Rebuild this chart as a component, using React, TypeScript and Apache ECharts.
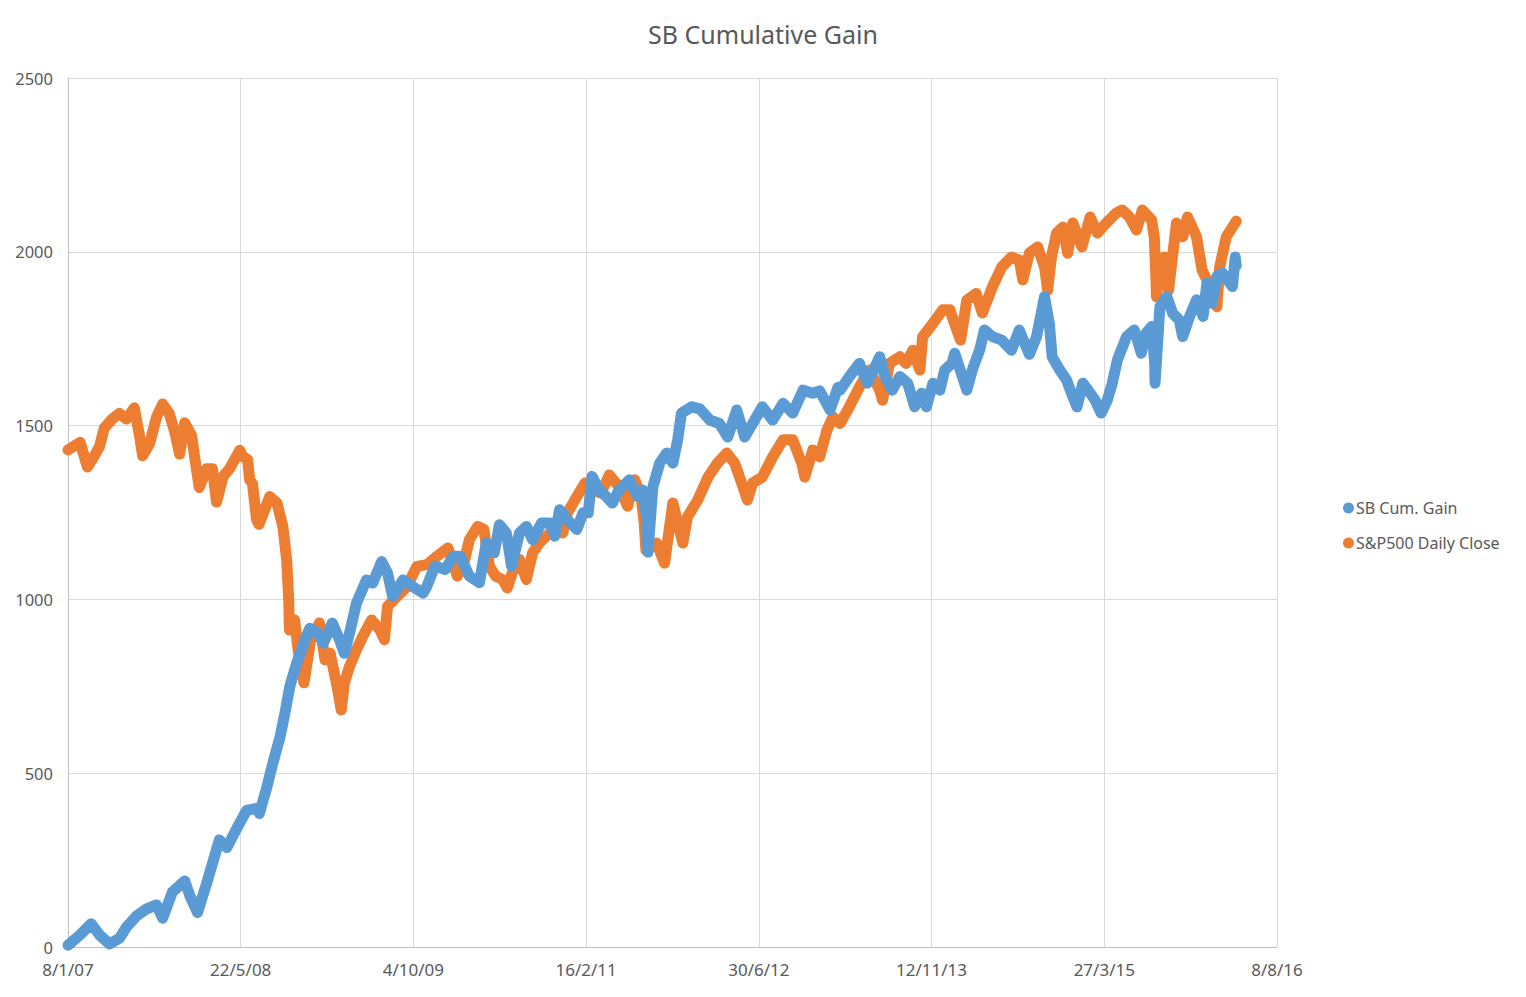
import React, { useEffect, useRef } from 'react';
import * as echarts from 'echarts';

// day 0 of the x axis
const START_DATE = '2007-01-08';

const xTicks = [0, 500, 1000, 1500, 2000, 2500, 3000, 3500];
const yTicks = [0, 500, 1000, 1500, 2000, 2500];

// SB Cum. Gain
const sbGain: [string, number][] = [
  ['2007-01-08', 5], ['2007-02-12', 35], ['2007-03-16', 67], ['2007-04-09', 35],
  ['2007-05-08', 9], ['2007-06-06', 25], ['2007-06-26', 57], ['2007-07-25', 89],
  ['2007-08-24', 110], ['2007-09-21', 121], ['2007-10-09', 83], ['2007-11-06', 158],
  ['2007-12-12', 190], ['2007-12-27', 147], ['2008-01-18', 99], ['2008-02-14', 185],
  ['2008-03-07', 260], ['2008-03-21', 308], ['2008-04-12', 286], ['2008-05-10', 340],
  ['2008-06-08', 393], ['2008-07-07', 399], ['2008-07-15', 384], ['2008-08-06', 461],
  ['2008-08-23', 529], ['2008-09-13', 605], ['2008-09-27', 673], ['2008-10-11', 749],
  ['2008-10-31', 817], ['2008-11-24', 884], ['2008-12-08', 917], ['2008-12-31', 903],
  ['2009-01-16', 874], ['2009-02-11', 932], ['2009-03-04', 884], ['2009-03-18', 845],
  ['2009-04-02', 903], ['2009-04-22', 989], ['2009-05-21', 1056], ['2009-06-08', 1047],
  ['2009-07-04', 1109], ['2009-07-21', 1076], ['2009-08-05', 1008], ['2009-09-04', 1056],
  ['2009-10-02', 1037], ['2009-11-01', 1018], ['2009-11-12', 1038], ['2009-12-05', 1096],
  ['2010-01-04', 1086], ['2010-01-27', 1124], ['2010-02-16', 1124], ['2010-03-15', 1067],
  ['2010-04-13', 1048], ['2010-05-03', 1163], ['2010-05-26', 1134], ['2010-06-10', 1215],
  ['2010-06-30', 1191], ['2010-07-15', 1096], ['2010-08-07', 1191], ['2010-08-27', 1210],
  ['2010-09-14', 1172], ['2010-10-10', 1220], ['2010-11-03', 1220], ['2010-11-17', 1182],
  ['2010-12-01', 1258], ['2010-12-24', 1229], ['2011-01-20', 1201], ['2011-02-07', 1249],
  ['2011-02-22', 1249], ['2011-03-05', 1354], ['2011-03-25', 1316], ['2011-04-15', 1296],
  ['2011-05-03', 1277], ['2011-05-22', 1315], ['2011-06-21', 1344], ['2011-07-01', 1323],
  ['2011-07-15', 1296], ['2011-07-29', 1315], ['2011-08-10', 1237], ['2011-08-12', 1191],
  ['2011-08-14', 1136], ['2011-08-28', 1323], ['2011-09-17', 1392], ['2011-10-07', 1421],
  ['2011-10-25', 1392], ['2011-11-08', 1459], ['2011-11-19', 1536], ['2011-12-18', 1554],
  ['2012-01-11', 1548], ['2012-02-09', 1516], ['2012-03-08', 1506], ['2012-04-01', 1467],
  ['2012-04-27', 1545], ['2012-05-20', 1467], ['2012-06-12', 1506], ['2012-07-10', 1554],
  ['2012-08-09', 1516], ['2012-09-08', 1564], ['2012-10-06', 1536], ['2012-11-05', 1602],
  ['2012-12-03', 1593], ['2012-12-23', 1600], ['2013-01-22', 1545], ['2013-02-14', 1610],
  ['2013-02-20', 1602], ['2013-03-19', 1641], ['2013-04-17', 1679], ['2013-05-10', 1622],
  ['2013-06-15', 1698], ['2013-06-30', 1641], ['2013-07-21', 1602], ['2013-08-12', 1641],
  ['2013-09-04', 1622], ['2013-09-24', 1554], ['2013-10-14', 1593], ['2013-10-28', 1554],
  ['2013-11-16', 1622], ['2013-12-06', 1602], ['2013-12-20', 1660], ['2014-01-10', 1679],
  ['2014-01-18', 1708], ['2014-02-03', 1660], ['2014-02-22', 1602], ['2014-03-10', 1660],
  ['2014-03-31', 1717], ['2014-04-14', 1775], ['2014-05-07', 1756], ['2014-06-03', 1746],
  ['2014-07-01', 1717], ['2014-07-24', 1775], ['2014-08-22', 1705], ['2014-09-12', 1756],
  ['2014-10-05', 1871], ['2014-10-19', 1794], ['2014-10-27', 1698], ['2014-11-18', 1660],
  ['2014-12-08', 1631], ['2014-12-22', 1593], ['2015-01-07', 1554], ['2015-01-24', 1622],
  ['2015-02-08', 1602], ['2015-02-28', 1574], ['2015-03-18', 1536], ['2015-04-05', 1574],
  ['2015-04-19', 1622], ['2015-05-04', 1689], ['2015-05-30', 1755], ['2015-06-22', 1775],
  ['2015-07-12', 1708], ['2015-07-26', 1766], ['2015-08-11', 1785], ['2015-08-20', 1679],
  ['2015-08-21', 1622], ['2015-09-04', 1842], ['2015-09-24', 1871], ['2015-10-11', 1823],
  ['2015-10-30', 1804], ['2015-11-09', 1756], ['2015-11-29', 1814], ['2015-12-19', 1862],
  ['2016-01-07', 1814], ['2016-01-18', 1910], ['2016-02-02', 1852], ['2016-02-16', 1929],
  ['2016-03-03', 1939], ['2016-03-17', 1919], ['2016-04-01', 1900], ['2016-04-09', 1985],
  ['2016-04-12', 1960],
];

// S&P500 Daily Close
const spClose: [string, number][] = [
  ['2007-01-08', 1430], ['2007-02-12', 1452], ['2007-03-05', 1381], ['2007-03-19', 1402],
  ['2007-04-09', 1439], ['2007-04-23', 1493], ['2007-05-16', 1519], ['2007-06-06', 1535],
  ['2007-06-26', 1519], ['2007-07-19', 1551], ['2007-08-03', 1471], ['2007-08-12', 1413],
  ['2007-09-02', 1450], ['2007-09-21', 1524], ['2007-10-09', 1562], ['2007-10-28', 1535],
  ['2007-11-13', 1482], ['2007-11-27', 1418], ['2007-12-12', 1508], ['2008-01-01', 1471],
  ['2008-01-10', 1407], ['2008-01-23', 1322], ['2008-02-14', 1376], ['2008-03-01', 1376],
  ['2008-03-13', 1280], ['2008-04-01', 1354], ['2008-04-20', 1376], ['2008-05-19', 1429],
  ['2008-05-27', 1412], ['2008-06-11', 1402], ['2008-06-17', 1344], ['2008-06-25', 1333],
  ['2008-07-07', 1229], ['2008-07-14', 1216], ['2008-08-14', 1296], ['2008-09-04', 1277],
  ['2008-09-21', 1210], ['2008-10-02', 1114], ['2008-10-05', 1056], ['2008-10-08', 999],
  ['2008-10-10', 912], ['2008-10-25', 941], ['2008-11-04', 855], ['2008-11-21', 760],
  ['2008-12-10', 880], ['2009-01-05', 932], ['2009-01-21', 826], ['2009-02-05', 845],
  ['2009-02-25', 749], ['2009-03-09', 682], ['2009-03-18', 759], ['2009-04-02', 807],
  ['2009-04-22', 855], ['2009-05-10', 893], ['2009-06-05', 941], ['2009-06-29', 912],
  ['2009-07-12', 884], ['2009-07-21', 980], ['2009-08-17', 1008], ['2009-09-15', 1037],
  ['2009-10-14', 1095], ['2009-11-12', 1100], ['2009-12-11', 1124], ['2010-01-12', 1148],
  ['2010-02-08', 1067], ['2010-02-25', 1096], ['2010-03-15', 1172], ['2010-04-08', 1210],
  ['2010-04-26', 1201], ['2010-05-12', 1096], ['2010-05-30', 1067], ['2010-06-19', 1057],
  ['2010-07-03', 1033], ['2010-07-17', 1076], ['2010-08-07', 1115], ['2010-08-27', 1057],
  ['2010-09-14', 1134], ['2010-10-04', 1163], ['2010-10-24', 1182], ['2010-11-23', 1210],
  ['2010-12-10', 1191], ['2010-12-24', 1249], ['2011-01-20', 1296], ['2011-02-13', 1335],
  ['2011-03-05', 1316], ['2011-03-31', 1306], ['2011-04-24', 1358], ['2011-05-22', 1325],
  ['2011-06-16', 1268], ['2011-07-07', 1344], ['2011-07-25', 1296], ['2011-08-03', 1220],
  ['2011-08-08', 1142], ['2011-09-08', 1162], ['2011-10-01', 1104], ['2011-10-25', 1277],
  ['2011-11-23', 1162], ['2011-12-06', 1237], ['2012-01-05', 1286], ['2012-02-04', 1352],
  ['2012-03-02', 1392], ['2012-03-29', 1421], ['2012-04-21', 1392], ['2012-05-11', 1335],
  ['2012-05-28', 1286], ['2012-06-12', 1335], ['2012-07-10', 1352], ['2012-08-09', 1410],
  ['2012-09-08', 1459], ['2012-10-06', 1459], ['2012-11-01', 1392], ['2012-11-10', 1352],
  ['2012-12-03', 1430], ['2012-12-23', 1410], ['2013-01-13', 1487], ['2013-01-31', 1525],
  ['2013-02-20', 1506], ['2013-03-19', 1554], ['2013-04-17', 1611], ['2013-05-16', 1660],
  ['2013-06-15', 1602], ['2013-06-23', 1573], ['2013-07-13', 1679], ['2013-08-12', 1698],
  ['2013-08-30', 1679], ['2013-09-19', 1717], ['2013-10-09', 1660], ['2013-10-17', 1755],
  ['2013-11-16', 1794], ['2013-12-14', 1833], ['2014-01-04', 1833], ['2014-01-24', 1775],
  ['2014-02-04', 1746], ['2014-02-22', 1861], ['2014-03-21', 1880], ['2014-04-08', 1824],
  ['2014-05-07', 1899], ['2014-06-03', 1956], ['2014-07-01', 1985], ['2014-07-24', 1976],
  ['2014-08-03', 1919], ['2014-08-22', 1996], ['2014-09-15', 2014], ['2014-10-05', 1956],
  ['2014-10-14', 1890], ['2014-10-25', 1985], ['2014-11-09', 2054], ['2014-11-27', 2071],
  ['2014-12-11', 1996], ['2014-12-26', 2083], ['2015-01-21', 2014], ['2015-02-14', 2100],
  ['2015-03-07', 2054], ['2015-04-02', 2083], ['2015-05-01', 2112], ['2015-05-18', 2120],
  ['2015-06-08', 2100], ['2015-06-28', 2063], ['2015-07-15', 2120], ['2015-08-11', 2092],
  ['2015-08-19', 2040], ['2015-08-21', 1985], ['2015-08-24', 1910], ['2015-08-25', 1871],
  ['2015-09-04', 1948], ['2015-09-17', 1985], ['2015-09-29', 1890], ['2015-10-22', 2083],
  ['2015-11-09', 2043], ['2015-11-23', 2100], ['2015-12-19', 2043], ['2016-01-04', 1948],
  ['2016-01-18', 1919], ['2016-02-02', 1871], ['2016-02-16', 1842], ['2016-02-24', 1956],
  ['2016-03-14', 2043], ['2016-04-01', 2071], ['2016-04-12', 2088],
];

const DAY = 86400000;
const startMs = Date.parse(START_DATE);
const toDays = (s: string) => Math.round((Date.parse(s) - startMs) / DAY);

const dayLabel = (v: number) => {
  const d = new Date(startMs + v * DAY);
  const yy = String(d.getUTCFullYear() % 100).padStart(2, '0');
  return `${d.getUTCDate()}/${d.getUTCMonth() + 1}/${yy}`;
};

const FONT = 'Noto Sans';
const TEXT = '#595959';

const App: React.FC = () => {
  const chartRef = useRef<HTMLDivElement | null>(null);

  useEffect(() => {
    if (!chartRef.current) return;
    const chart = echarts.init(chartRef.current, undefined, { renderer: 'svg' });

    const lineSeries = (name: string, color: string, data: [string, number][], z: number) => ({
      name,
      type: 'line',
      data: data.map(([d, v]) => [toDays(d), v]),
      showSymbol: false,
      symbol: 'circle',
      z,
      itemStyle: { color },
      lineStyle: { color, width: 11, cap: 'round', join: 'round' },
    });

    chart.setOption({
      animation: false,
      backgroundColor: '#ffffff',
      textStyle: { fontFamily: FONT },
      title: {
        text: 'SB Cumulative Gain',
        left: 'center',
        top: 16,
        textStyle: { fontFamily: FONT, fontSize: 25, fontWeight: 'normal', color: TEXT },
      },
      legend: {
        orient: 'vertical',
        left: 1338,
        top: 494,
        icon: 'circle',
        itemWidth: 11,
        itemHeight: 11,
        itemGap: 17,
        data: ['SB Cum. Gain', 'S&P500 Daily Close'],
        textStyle: { fontFamily: FONT, fontSize: 16, color: TEXT, lineHeight: 18, padding: [0, 0, 0, -3] },
      },
      grid: { left: 68, right: 249, top: 78, bottom: 50, containLabel: false },
      xAxis: {
        type: 'value',
        min: xTicks[0],
        max: xTicks[xTicks.length - 1],
        interval: xTicks[1] - xTicks[0],
        axisLine: { show: true, lineStyle: { color: '#bfbfbf', width: 1 } },
        axisTick: { show: false },
        axisLabel: { formatter: dayLabel, color: TEXT, fontSize: 17, fontFamily: FONT, margin: 14 },
        splitLine: { show: true, lineStyle: { color: '#d9d9d9', width: 1 } },
      },
      yAxis: {
        type: 'value',
        min: yTicks[0],
        max: yTicks[yTicks.length - 1],
        interval: yTicks[1] - yTicks[0],
        axisLine: { show: true, lineStyle: { color: '#bfbfbf', width: 1 } },
        axisTick: { show: false },
        axisLabel: {
          formatter: (v: number) => String(v),
          color: TEXT,
          fontSize: 16.5,
          fontFamily: FONT,
          margin: 15,
        },
        splitLine: { show: true, lineStyle: { color: '#d9d9d9', width: 1 } },
      },
      series: [
        lineSeries('SB Cum. Gain', '#5B9BD5', sbGain, 3),
        lineSeries('S&P500 Daily Close', '#ED7D31', spClose, 2),
      ],
    });

    const onResize = () => chart.resize();
    window.addEventListener('resize', onResize);
    return () => {
      window.removeEventListener('resize', onResize);
      chart.dispose();
    };
  }, []);

  return (
    <div
      ref={chartRef}
      style={{ position: 'fixed', left: 0, top: 0, width: '1526px', height: '997px', background: '#fff' }}
    />
  );
};

export default App;
